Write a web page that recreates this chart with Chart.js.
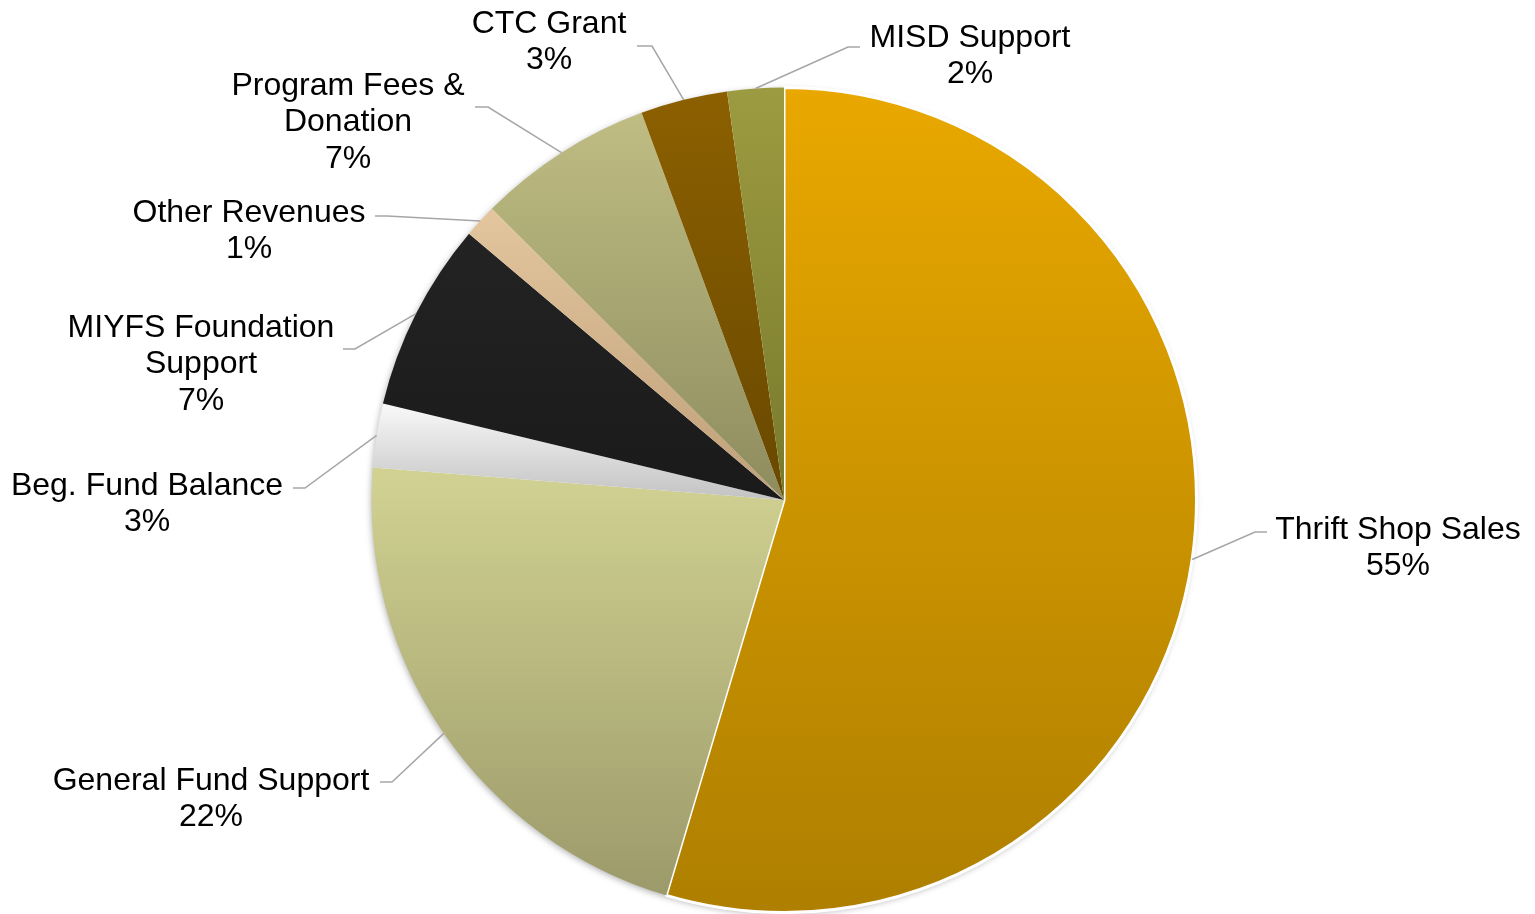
<!DOCTYPE html>
<html><head><meta charset="utf-8">
<script src="https://cdn.jsdelivr.net/npm/chart.js@4.4.1/dist/chart.umd.min.js"></script>
<style>html,body{margin:0;padding:0;background:#fff;overflow:hidden}canvas{display:block}</style>
</head><body>
<canvas id="c" width="1535" height="914"></canvas>
<script>
// ---- data ----
const categories = ['Thrift Shop Sales','General Fund Support','Beg. Fund Balance','MIYFS Foundation\nSupport','Other Revenues','Program Fees &\nDonation','CTC Grant','MISD Support'];
const revenueShares = [54.5, 21.6, 2.5, 7.4, 1.3, 6.9, 3.4, 2.2];

// ---- styles ----
const gradientTop    = ['#E9A800','#D1D292','#F9F9F9','#232323','#E4C69E','#BFBD83','#8C6000','#9D9B41'];
const gradientBottom = ['#AE7F00','#9C9A6A','#C2C2C2','#1A1A1A','#BE9F78','#8E8C5E','#684800','#787A2C'];
const sliceBorder    = [3,0,0,0,0,0,0,0];
// label layout: text centre x, first-line centre y, elbow point, end point (canvas px)
const labelLayout = [
  {tx:1398, ty:530, ex:1255, ey:532, px:1267, py:532},
  {tx:211,  ty:781, ex:392,  ey:782, px:380,  py:782},
  {tx:147,  ty:486, ex:305,  ey:488, px:293,  py:488},
  {tx:201,  ty:328, ex:355,  ey:349, px:343,  py:349},
  {tx:249,  ty:213, ex:387,  ey:216, px:375,  py:216},
  {tx:348,  ty:86,  ex:488,  ey:107, px:475,  py:107},
  {tx:549,  ty:24,  ex:652,  ey:46,  px:637,  py:46},
  {tx:970,  ty:38,  ex:848,  ey:47,  px:860,  py:47}
];
const FONT = '32px "Liberation Sans", Arial, sans-serif';
const LINE_H = 36.5;

const slicePaint = {
  id: 'slicePaint',
  beforeDatasetsDraw(chart) {
    const ctx = chart.ctx;
    const meta = chart.getDatasetMeta(0);
    if (!meta.data.length) return;
    const a0 = meta.data[0];
    ctx.save();
    ctx.shadowColor = 'rgba(0,0,0,0.35)';
    ctx.shadowBlur = 7;
    ctx.shadowOffsetX = -1;
    ctx.shadowOffsetY = 2;
    ctx.fillStyle = '#ffffff';
    ctx.beginPath();
    ctx.arc(a0.x, a0.y, a0.outerRadius - 1, 0, Math.PI * 2);
    ctx.fill();
    ctx.restore();
    meta.data.forEach((el, i) => {
      const s = el.startAngle, e = el.endAngle, r = el.outerRadius;
      const ys = [el.y, el.y + r * Math.sin(s), el.y + r * Math.sin(e)];
      [-Math.PI/2, Math.PI/2, 3*Math.PI/2].forEach(a => {
        if (a >= s && a <= e) ys.push(el.y + r * Math.sin(a));
      });
      const y0 = Math.min(...ys), y1 = Math.max(...ys);
      const g = ctx.createLinearGradient(0, y0, 0, y1);
      g.addColorStop(0, gradientTop[i]);
      g.addColorStop(1, gradientBottom[i]);
      el.options.backgroundColor = g;
    });
  }
};

const outsideLabels = {
  id: 'outsideLabels',
  afterDatasetsDraw(chart) {
    const ctx = chart.ctx;
    const meta = chart.getDatasetMeta(0);
    const vals = chart.data.datasets[0].data;
    const total = vals.reduce((a, b) => a + b, 0);
    meta.data.forEach((el, i) => {
      const L = labelLayout[i];
      const mid = (el.startAngle + el.endAngle) / 2;
      const ax = el.x + el.outerRadius * Math.cos(mid);
      const ay = el.y + el.outerRadius * Math.sin(mid);
      ctx.save();
      ctx.strokeStyle = '#A6A6A6';
      ctx.lineWidth = 1.5;
      ctx.beginPath();
      ctx.moveTo(ax, ay);
      ctx.lineTo(L.ex, L.ey);
      ctx.lineTo(L.px, L.py);
      ctx.stroke();
      ctx.fillStyle = '#000000';
      ctx.font = FONT;
      ctx.textAlign = 'center';
      ctx.textBaseline = 'middle';
      const lines = String(chart.data.labels[i]).split('\n');
      lines.push(Math.round(vals[i] / total * 100) + '%');
      lines.forEach((t, k) => ctx.fillText(t, L.tx, L.ty + k * LINE_H));
      ctx.restore();
    });
  }
};

new Chart(document.getElementById('c'), {
  type: 'pie',
  data: {
    labels: categories,
    datasets: [{
      data: revenueShares,
      backgroundColor: gradientTop,
      borderColor: '#ffffff',
      borderWidth: sliceBorder
    }]
  },
  options: {
    responsive: false,
    animation: false,
    devicePixelRatio: 1,
    layout: { padding: { top: 86, bottom: -2, left: 33, right: 0 } },
    plugins: { legend: { display: false }, tooltip: { enabled: false } }
  },
  plugins: [slicePaint, outsideLabels]
});
</script>
</body></html>
